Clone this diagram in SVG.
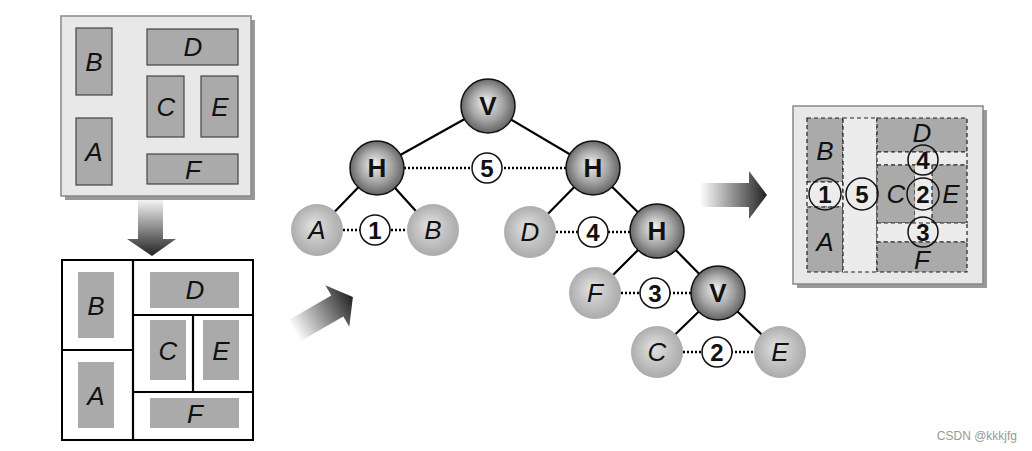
<svg xmlns="http://www.w3.org/2000/svg" width="1032" height="451" viewBox="0 0 1032 451">
<defs>
<radialGradient id="gInt" cx="50%" cy="50%" r="55%" fx="45%" fy="42%">
<stop offset="0" stop-color="#f2f2f2"/><stop offset="0.55" stop-color="#a4a4a4"/><stop offset="1" stop-color="#555"/>
</radialGradient>
<radialGradient id="gLeaf" cx="50%" cy="50%" r="55%" fx="42%" fy="40%">
<stop offset="0" stop-color="#e2e2e2"/><stop offset="1" stop-color="#a6a6a6"/>
</radialGradient>
<linearGradient id="gDown" x1="0" y1="0" x2="0" y2="1">
<stop offset="0" stop-color="#f4f4f4"/><stop offset="1" stop-color="#222"/>
</linearGradient>
<linearGradient id="gRight" x1="0" y1="0" x2="1" y2="0">
<stop offset="0" stop-color="#ffffff"/><stop offset="1" stop-color="#222"/>
</linearGradient>
</defs>
<style>
.pan{fill:#e8e8e8;stroke:#888;stroke-width:1.5}
.sh{fill:#999}
.gr{fill:#aaaaaa;stroke:#444;stroke-width:1.2}
.gr2{fill:#aaaaaa}
.ln{stroke:#000;stroke-width:2.2;fill:none}
.dot{stroke:#000;stroke-width:2.5;stroke-dasharray:2 2;fill:none}
.it{font-family:"Liberation Sans",Arial,sans-serif;font-style:italic;font-size:26px;fill:#111;text-anchor:middle}
.bd{font-family:"Liberation Sans",Arial,sans-serif;font-weight:bold;font-size:26px;fill:#111;text-anchor:middle}
.num{font-family:"Liberation Sans",Arial,sans-serif;font-weight:bold;font-size:24px;fill:#111;text-anchor:middle}
.int{fill:url(#gInt);stroke:#111;stroke-width:1.5}
.leaf{fill:url(#gLeaf)}
.sm{fill:#fff;stroke:#111;stroke-width:1.5}
.dr{stroke:#222;stroke-width:1.2;stroke-dasharray:4 3}
.dg{fill:#aaaaaa}
.dl{fill:#ececec}
.smo{fill:none;stroke:#111;stroke-width:1.5}
</style>

<g id="top-layout">
<rect class="sh" x="65" y="20" width="190" height="180"/>
<rect class="pan" x="61" y="16" width="190" height="180"/>
<rect class="gr" x="76" y="28" width="36" height="67"/>
<rect class="gr" x="76" y="118" width="36" height="67"/>
<rect class="gr" x="147" y="29" width="91" height="36"/>
<rect class="gr" x="147" y="76" width="37" height="61"/>
<rect class="gr" x="201" y="76" width="37" height="61"/>
<rect class="gr" x="147" y="154" width="91" height="30"/>
<text class="it" x="94" y="71">B</text>
<text class="it" x="94" y="161">A</text>
<text class="it" x="193" y="56">D</text>
<text class="it" x="166" y="116">C</text>
<text class="it" x="220" y="116">E</text>
<text class="it" x="193" y="179">F</text>
</g>

<g id="arrow-down">
<path d="M138,200 H163 V239 H176 L152,256 L127,239 H138 Z" fill="url(#gDown)"/>
</g>

<g id="bottom-layout">
<rect x="62" y="260" width="191" height="180" fill="#fff" stroke="#000" stroke-width="2"/>
<path class="ln" d="M133,260 V440 M62,350 H133 M133,315 H253 M133,392 H253 M193,315 V392"/>
<rect class="gr2" x="78" y="272" width="36" height="66"/>
<rect class="gr2" x="78" y="362" width="36" height="66"/>
<rect class="gr2" x="150" y="272" width="89" height="36"/>
<rect class="gr2" x="150" y="320" width="36" height="60"/>
<rect class="gr2" x="203" y="320" width="36" height="60"/>
<rect class="gr2" x="150" y="398" width="89" height="30"/>
<text class="it" x="96" y="315">B</text>
<text class="it" x="96" y="405">A</text>
<text class="it" x="195" y="299">D</text>
<text class="it" x="168" y="360">C</text>
<text class="it" x="221" y="360">E</text>
<text class="it" x="195" y="423">F</text>
</g>

<g id="arrow-diag">
<path transform="translate(294,331) rotate(-30)" d="M0,-12 H50 V-24 L68,0 L50,24 V12 H0 Z" fill="url(#gRight)"/>
</g>

<g id="arrow-right">
<path d="M700,183 H749 V171 L767,195 L749,219 V207 H700 Z" fill="url(#gRight)"/>
</g>

<g id="connectors">
<path class="ln" d="M488,106 L377,168 M488,106 L593,168 M377,168 L317,230 M377,168 L433,230 M593,168 L530,232 M593,168 L657,231 M657,231 L595,293 M657,231 L718,293 M718,293 L657,352 M718,293 L780,352"/>
<path class="dot" d="M404,168 H566 M343,230 H407 M556,232 H630 M621,293 H691 M683,352 H753"/>
</g>

<g id="n-V1"><circle class="int" cx="488" cy="106" r="27"/><text class="bd" x="488" y="115">V</text></g>
<g id="n-H1"><circle class="int" cx="377" cy="168" r="27"/><text class="bd" x="377" y="177">H</text></g>
<g id="n-H2"><circle class="int" cx="593" cy="168" r="27"/><text class="bd" x="593" y="177">H</text></g>
<g id="n-H3"><circle class="int" cx="657" cy="231" r="27"/><text class="bd" x="657" y="240">H</text></g>
<g id="n-V2"><circle class="int" cx="718" cy="293" r="27"/><text class="bd" x="718" y="302">V</text></g>
<g id="n-A"><circle class="leaf" cx="317" cy="230" r="26"/><text class="it" x="317" y="239">A</text></g>
<g id="n-B"><circle class="leaf" cx="433" cy="230" r="26"/><text class="it" x="433" y="239">B</text></g>
<g id="n-D"><circle class="leaf" cx="530" cy="232" r="26"/><text class="it" x="530" y="241">D</text></g>
<g id="n-F"><circle class="leaf" cx="595" cy="293" r="26"/><text class="it" x="595" y="302">F</text></g>
<g id="n-C"><circle class="leaf" cx="657" cy="352" r="26"/><text class="it" x="657" y="361">C</text></g>
<g id="n-E"><circle class="leaf" cx="780" cy="352" r="26"/><text class="it" x="780" y="361">E</text></g>
<g id="n-5"><circle class="sm" cx="487" cy="168" r="15"/><text class="num" x="487" y="177">5</text></g>
<g id="n-1"><circle class="sm" cx="375" cy="230" r="15"/><text class="num" x="375" y="239">1</text></g>
<g id="n-4"><circle class="sm" cx="593" cy="232" r="15"/><text class="num" x="593" y="241">4</text></g>
<g id="n-3"><circle class="sm" cx="655" cy="293" r="15"/><text class="num" x="655" y="302">3</text></g>
<g id="n-2"><circle class="sm" cx="717" cy="352" r="15"/><text class="num" x="717" y="361">2</text></g>

<g id="result-layout">
<rect class="sh" x="797" y="110" width="190" height="178"/>
<rect class="pan" x="793" y="106" width="190" height="178"/>
<rect class="dg dr" x="807" y="118" width="36" height="64"/>
<rect class="dl dr" x="807" y="182" width="36" height="25"/>
<rect class="dg dr" x="807" y="207" width="36" height="65"/>
<rect class="dl dr" x="843" y="118" width="34" height="154"/>
<rect class="dg dr" x="877" y="118" width="90" height="34"/>
<rect class="dl dr" x="877" y="152" width="90" height="13"/>
<rect class="dg dr" x="877" y="165" width="38" height="58"/>
<rect class="dl" x="915" y="165" width="17" height="58"/>
<rect class="dg dr" x="932" y="165" width="35" height="58"/>
<rect class="dl dr" x="877" y="223" width="90" height="19"/>
<rect class="dg dr" x="877" y="242" width="90" height="30"/>
<text class="it" x="825" y="160">B</text>
<text class="it" x="825" y="251">A</text>
<text class="it" x="922" y="142">D</text>
<text class="it" x="896" y="203">C</text>
<text class="it" x="951" y="203">E</text>
<text class="it" x="922" y="269">F</text>
<circle class="smo" cx="825" cy="194" r="16"/><text class="num" x="825" y="203">1</text>
<circle class="smo" cx="862" cy="194" r="16"/><text class="num" x="862" y="203">5</text>
<circle class="smo" cx="923" cy="194" r="16"/><text class="num" x="923" y="203">2</text>
<circle class="smo" cx="923" cy="160" r="15"/><text class="num" x="923" y="169">4</text>
<circle class="smo" cx="923" cy="232" r="15"/><text class="num" x="923" y="241">3</text>
</g>

<text x="1017" y="440" font-family="'Liberation Sans',Arial,sans-serif" font-size="12" fill="#999" text-anchor="end">CSDN @kkkjfg</text>
</svg>
